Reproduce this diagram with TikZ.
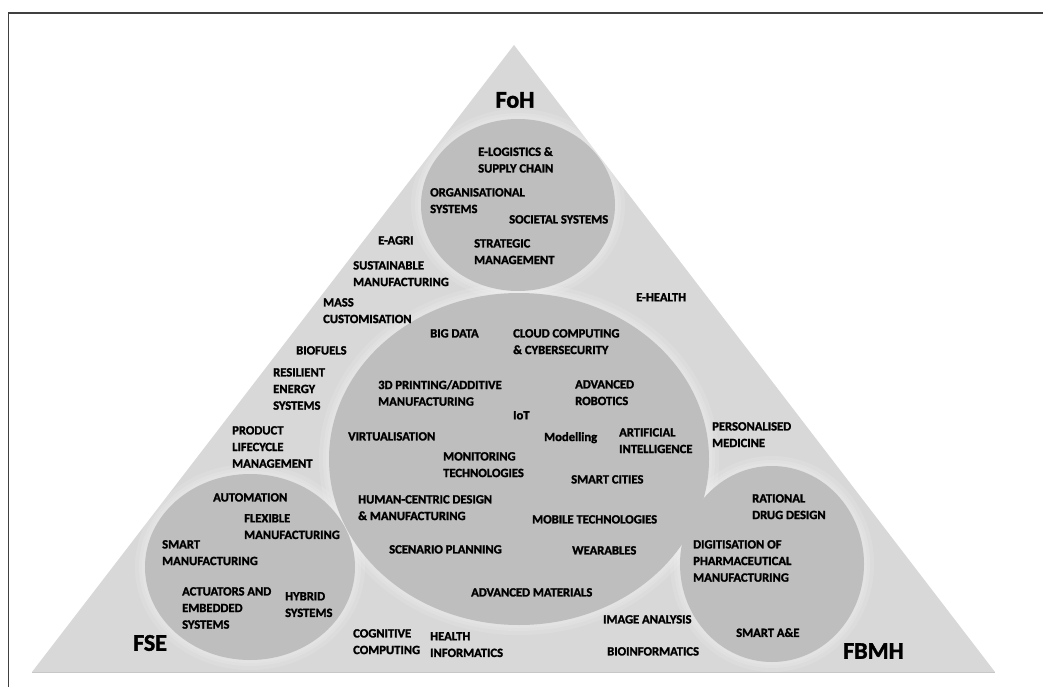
\documentclass[tikz,border=0pt]{standalone}
\usepackage{fontspec}
\setmainfont{Carlito}
\newfontfamily\heavyfont{Carlito}[BoldFeatures={FakeBold=1.6}]
\begin{document}
\begin{tikzpicture}[x=1pt,y=-1pt,
  lbl/.style={anchor=north west,inner sep=0pt,align=left,text=black,
    font=\heavyfont\fontsize{12.6}{16.6}\selectfont\bfseries},
  big/.style={anchor=west,inner sep=0pt,text=black,
    font=\heavyfont\fontsize{24}{28}\selectfont\bfseries},
  tri/.style={fill=triGrey,draw=none},
  disc/.style={fill=discGrey,draw=none},
  halo/.style={fill=white,opacity=0.12,draw=none}]
\definecolor{triGrey}{HTML}{D8D8D8}
\definecolor{discGrey}{HTML}{BEBEBE}
\definecolor{frameGrey}{HTML}{404040}
\useasboundingbox (0,0) rectangle (1043,687);
\fill[white] (0,0) rectangle (1043,687);
% frame
\draw[frameGrey,line width=1.5pt] (8.5,687) -- (8.5,13) -- (1043,13);
% triangle
\coordinate (apex) at (514,45);
\coordinate (bl) at (32,672);
\coordinate (br) at (995,672);
\path[tri] (apex) -- (bl) -- (br) -- cycle;
\draw[black!22,line width=1pt] (bl) -- (br);
\begin{scope}
\clip (apex) -- (bl) -- (br) -- cycle;
\foreach \d in {10,6,3}{
  \path[halo] (518,205) ellipse [x radius=97+\d,y radius=86+\d];
  \path[halo] (519,459) ellipse [x radius=190+\d,y radius=166+\d];
  \path[halo] (250,567) ellipse [x radius=105+\d,y radius=93+\d];
  \path[halo] (772,564) ellipse [x radius=92+\d,y radius=98+\d];
}
\end{scope}
% circles
\path[disc] (518,205) ellipse [x radius=97,y radius=86];
\path[disc] (519,459) ellipse [x radius=190,y radius=166];
\path[disc] (250,567) ellipse [x radius=105,y radius=93];
\path[disc] (772,564) ellipse [x radius=92,y radius=98];
% faculty labels
\node[big,anchor=center] (foh) at (515,100) {FoH};
\node[big] (fse) at (133,643) {FSE};
\node[big] (fbmh) at (843,651) {FBMH};
% top circle
\node[lbl] (t1) at (478,147) {E-LOGISTICS \&\\SUPPLY CHAIN};
\node[lbl] (t2) at (430,188) {ORGANISATIONAL\\SYSTEMS};
\node[lbl] (t3) at (509,215) {SOCIETAL SYSTEMS};
\node[lbl] (t4) at (474,239) {STRATEGIC\\MANAGEMENT};
% outside texts
\node[lbl] (o1) at (378,236) {E-AGRI};
\node[lbl] (o2) at (353,261) {SUSTAINABLE\\MANUFACTURING};
\node[lbl] (o3) at (323,298) {MASS\\CUSTOMISATION};
\node[lbl] (o4) at (636,293) {E-HEALTH};
\node[lbl] (o5) at (296,346) {BIOFUELS};
\node[lbl] (o6) at (273,368) {RESILIENT\\ENERGY\\SYSTEMS};
\node[lbl] (o7) at (712,422) {PERSONALISED\\MEDICINE};
\node[lbl] (o8) at (232,426) {PRODUCT\\LIFECYCLE\\MANAGEMENT};
\node[lbl] (o9) at (353,629) {COGNITIVE\\COMPUTING};
\node[lbl] (o10) at (430,632) {HEALTH\\INFORMATICS};
\node[lbl] (o11) at (603,615) {IMAGE ANALYSIS};
\node[lbl] (o12) at (607,647) {BIOINFORMATICS};
% central circle
\node[lbl] (c1) at (430,329) {BIG DATA};
\node[lbl] (c2) at (513,329) {CLOUD COMPUTING\\\& CYBERSECURITY};
\node[lbl] (c3) at (378,380) {3D PRINTING/ADDITIVE\\MANUFACTURING};
\node[lbl] (c4) at (575,380) {ADVANCED\\ROBOTICS};
\node[lbl] (c5) at (513,411) {IoT};
\node[lbl] (c6) at (348,432) {VIRTUALISATION};
\node[lbl] (c7) at (544,432) {Modelling};
\node[lbl] (c8) at (619,428) {ARTIFICIAL\\INTELLIGENCE};
\node[lbl] (c9) at (443,452) {MONITORING\\TECHNOLOGIES};
\node[lbl] (c10) at (571,475) {SMART CITIES};
\node[lbl] (c11) at (358,495) {HUMAN-CENTRIC DESIGN\\\& MANUFACTURING};
\node[lbl] (c12) at (389,545) {SCENARIO PLANNING};
\node[lbl] (c13) at (471,588) {ADVANCED MATERIALS};
\node[lbl] (c14) at (532,515) {MOBILE TECHNOLOGIES};
\node[lbl] (c15) at (572,546) {WEARABLES};
% FSE circle
\node[lbl] (s1) at (213,493) {AUTOMATION};
\node[lbl] (s2) at (244,514) {FLEXIBLE\\MANUFACTURING};
\node[lbl] (s3) at (162,540) {SMART\\MANUFACTURING};
\node[lbl] (s4) at (182,587) {ACTUATORS AND\\EMBEDDED\\SYSTEMS};
\node[lbl] (s5) at (285,592) {HYBRID\\SYSTEMS};
% FBMH circle
\node[lbl] (b1) at (752,494) {RATIONAL\\DRUG DESIGN};
\node[lbl] (b2) at (693,540) {DIGITISATION OF\\PHARMACEUTICAL\\MANUFACTURING};
\node[lbl] (b3) at (736,628) {SMART A\&E};
\end{tikzpicture}
\end{document}
